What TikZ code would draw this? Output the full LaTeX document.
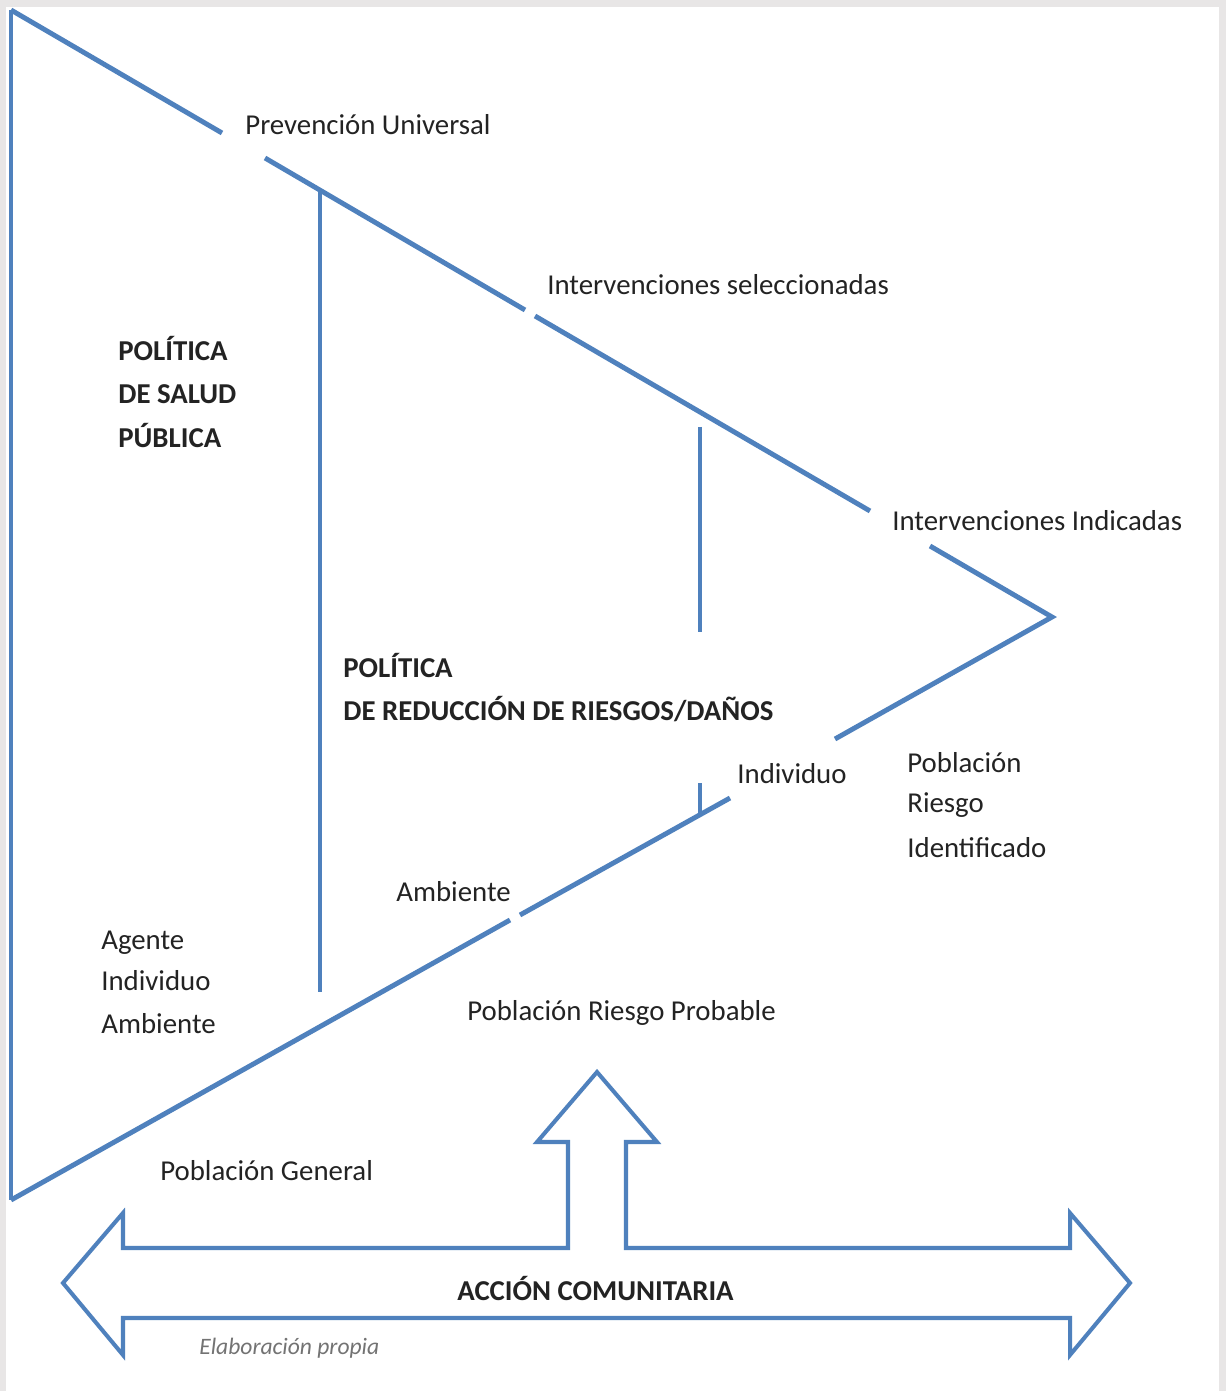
\documentclass[tikz,border=0pt]{standalone}
\usepackage{fontspec}
\setmainfont{Carlito}
\definecolor{lblue}{RGB}{79,129,189}
\definecolor{frame}{RGB}{232,230,230}
\definecolor{txt}{RGB}{35,35,35}
\begin{document}
\begin{tikzpicture}[x=0.02cm,y=-0.02cm,
  ln/.style={draw=lblue,line width=2.8pt},
  blk/.style={draw=lblue,line width=2.3pt,line join=miter,fill=white},
  lbl/.style={anchor=base west,inner sep=0pt,text=txt,font=\fontsize{16.4}{19}\selectfont},
  bld/.style={lbl,font=\fontsize{16.4}{19}\selectfont\bfseries},
  cred/.style={anchor=base west,inner sep=0pt,text=black!55,font=\fontsize{13.4}{15}\selectfont\itshape}]
\fill[frame] (0,0) rectangle (1226,1391);
\fill[white] (6,7) rectangle (1219,1391);
\useasboundingbox (0,0) rectangle (1226,1391);
% main triangle lines
\coordinate (tl) at (11,10);
\coordinate (bl) at (11,1200);
\coordinate (apex) at (1052,617);
\draw[ln] (tl) -- (bl);
\draw[ln] (tl) -- (222,133);
\draw[ln] (265,158) -- (525,310);
\draw[ln] (535,316) -- (870,511);
\draw[ln] (930,546) -- (apex) -- (835,739);
\draw[ln] (730,798) -- (520,915);
\draw[ln] (510,920) -- (bl);
% vertical lines
\draw[ln] (320,190) -- (320,992);
\draw[ln] (700,427) -- (700,632);
\draw[ln] (700,783) -- (700,815);
% block arrow
\draw[blk] (568,1248) -- (568,1142) -- (537,1142) -- (597,1072) -- (657,1142) -- (626,1142) -- (626,1248)
  -- (1070,1248) -- (1070,1213) -- (1130,1283) -- (1070,1355) -- (1070,1318) -- (123,1318)
  -- (123,1355) -- (63,1283) -- (123,1213) -- (123,1248) -- cycle;
% labels
\node[lbl] (pu) at (245,135) {Prevención Universal};
\node[lbl] (is) at (547,295) {Intervenciones seleccionadas};
\node[lbl] (ii) at (892,530) {Intervenciones Indicadas};
\node[bld] (ps1) at (118,361) {POLÍTICA};
\node[bld] (ps2) at (118,404) {DE SALUD};
\node[bld] (ps3) at (118,448) {PÚBLICA};
\node[bld] (pr1) at (343,677) {POLÍTICA};
\node[bld] (pr2) at (343,720) {DE REDUCCIÓN DE RIESGOS/DAÑOS};
\node[lbl] (ind) at (737,783) {Individuo};
\node[lbl] (pri1) at (907,772) {Población};
\node[lbl] (pri2) at (907,812) {Riesgo};
\node[lbl] (pri3) at (907,857) {Identificado};
\node[lbl] (amb) at (396,901) {Ambiente};
\node[lbl] (a1) at (101,949) {Agente};
\node[lbl] (a2) at (101,990) {Individuo};
\node[lbl] (a3) at (101,1033) {Ambiente};
\node[lbl] (prp) at (467,1020) {Población Riesgo Probable};
\node[lbl] (pg) at (160,1180) {Población General};
\node[bld] (ac) at (457,1300) {ACCIÓN COMUNITARIA};
\node[cred] (ep) at (199,1354) {Elaboración propia};
\end{tikzpicture}
\end{document}
